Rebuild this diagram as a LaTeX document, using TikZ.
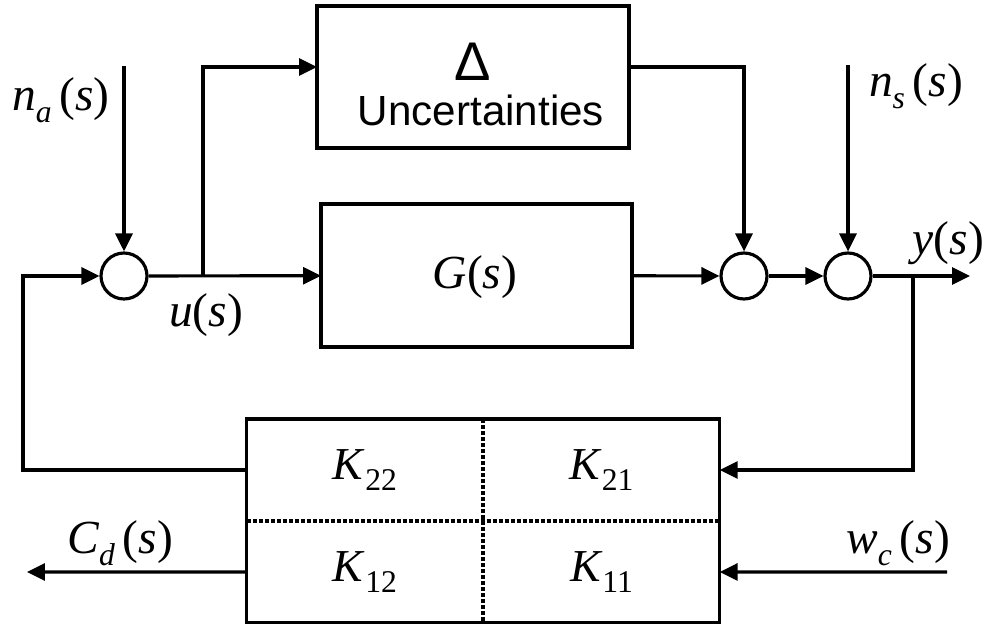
\documentclass[tikz,border=0pt]{standalone}
\usepackage{fontspec}
\setmainfont{Liberation Serif}
\newfontfamily\arialfont{Liberation Sans}
\usepackage{tikz}
\usetikzlibrary{positioning,arrows.meta}

\tikzset{
  blok/.style={draw, line width=1.8pt, inner sep=0pt, outer sep=0pt},
  cell/.style={inner sep=0pt, outer sep=0pt, minimum width=4.73cm, minimum height=2.04cm, font=\fontsize{26}{28}\selectfont},
  sum/.style={draw, circle, line width=1.8pt, minimum size=0.92cm, inner sep=0pt},
  sig/.style={-{Triangle[length=0.36cm,width=0.34cm]}, line width=1.8pt},
  lbl/.style={font=\fontsize{27}{30}\selectfont},
  divide/.style={line width=2.2pt, dash pattern=on 0.08cm off 0.04cm}
}
\newcommand{\sub}[1]{\raisebox{-0.55ex}{\fontsize{18}{18}\selectfont #1}}
\newcommand{\sg}[2]{\textit{#1}\sub{\textit{#2}}\,(\textit{s})}

\begin{document}
\begin{tikzpicture}[x=0.02cm, y=-0.02cm]
      \useasboundingbox (0,0) rectangle (987,624);
      % forward path
      \node[sum] (s1) at (124,276) {};
      \node[blok, minimum width=6.22cm, minimum height=2.86cm] (G) at (476.5,275.5) {};
      \node[lbl] (gtxt) at (475,277) {\textit{G}(\textit{s})};
      \node[blok, minimum width=6.24cm, minimum height=2.84cm] (D) at (473,77) {};
      \node[font=\arialfont\fontsize{31}{34}\selectfont] (dtxt) at (473,62) {Δ};
      \node[font=\arialfont\fontsize{24}{28}\selectfont] (utxt) at (481,110) {Uncertainties};
      \node[sum] (s2) at (744,276) {};
      \node[sum] (s3) at (848,276) {};
      % controller
      \node[cell] (k22) at (365,470) {\textit{K}\sub{22}};
      \node[cell, right=0pt of k22] (k21) {\textit{K}\sub{21}};
      \node[cell, below=0pt of k22] (k12) {\textit{K}\sub{12}};
      \node[cell, below=0pt of k21] (k11) {\textit{K}\sub{11}};
      \draw[blok] (k22.north west) rectangle (k11.south east);
      \draw[divide] (k22.north east) -- (k12.south east);
      \draw[divide] (k22.south west) -- (k21.south east);
      % end points
      \coordinate (na) at (124,66);
      \coordinate (ns) at (848,65);
      \coordinate (fbl) at (23,276);
      \coordinate (br) at (203,276);
      \coordinate (yb) at (913,276);
      \coordinate (yout) at (970,276);
      \coordinate (cd) at (27,572);
      \coordinate (wc) at (947,572);
      % signals
      \draw[sig] (na) -- (s1);
      \draw[sig] (k22.west) -| (fbl) -- (s1);
      \draw[sig] (s1) -- (G);
      \draw[sig] (br) |- ([yshift=0.2cm]D.west);
      \draw[sig] ([yshift=0.2cm]D.east) -| (s2);
      \draw[sig] (G) -- (s2);
      \draw[sig] (s2) -- (s3);
      \draw[sig] (ns) -- (s3);
      \draw[sig] (s3) -- (yout);
      \draw[sig] (yb) |- (k21);
      \draw[sig] (k12.west) -- (cd);
      \draw[sig] (wc) -- (k11.east);
      % labels
      \node[lbl] (lna) at (61,100) {\sg{n}{a}};
      \node[lbl] (lu) at (206,315) {\textit{u}(\textit{s})};
      \node[lbl] (lns) at (916,86) {\sg{n}{s}};
      \node[lbl, anchor=east, inner sep=1pt] (ly) at (986,243) {\textit{y}(\textit{s})};
      \node[lbl] (lcd) at (120,543) {\sg{C}{d}};
      \node[lbl] (lwc) at (898,543) {\sg{w}{c}};
    \end{tikzpicture}
\end{document}
